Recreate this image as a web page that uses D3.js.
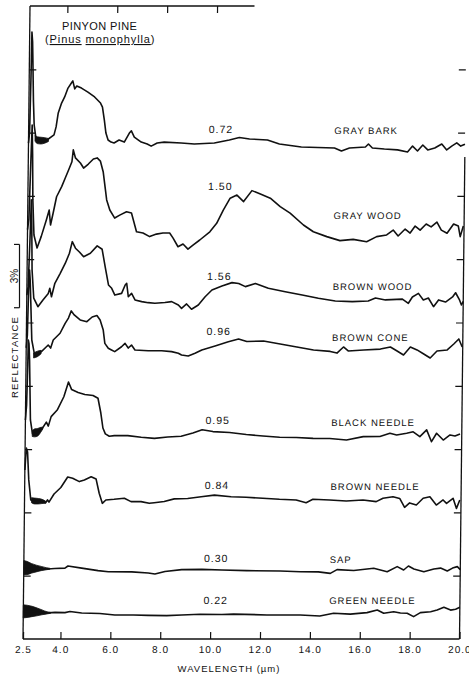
<!DOCTYPE html>
<html><head><meta charset="utf-8">
<script src="https://cdn.jsdelivr.net/npm/d3@7"></script>
<style>
html,body{margin:0;padding:0;background:#fff;}
svg{display:block;}
text{font-family:"Liberation Sans",Arial,Helvetica,sans-serif;fill:#111;}
</style></head><body>
<svg id="chart" width="469" height="679"></svg>
<script>
// ---------- data ----------
const xTicks = [2.5,4,6,8,10,12,14,16,18,20];
const xTickLabels = ["2.5","4.0","6.0","8.0","10.0","12.0","14.0","16.0","18.0","20.0"];
const yTicks = [3,6,9,12,15,18,21,24,27];
const topTicks = [4,6,8,10];

const sampleNames  = ["GRAY BARK","GRAY WOOD","BROWN WOOD","BROWN CONE","BLACK NEEDLE","BROWN NEEDLE","SAP","GREEN NEEDLE"];
const sampleValues = ["0.72","1.50","1.56","0.96","0.95","0.84","0.30","0.22"];
const nameLabelY   = [23.93,19.91,16.54,14.12,10.09,7.06,3.62,1.66];
const valueLabelY  = [23.98,21.28,17.01,14.41,10.19,7.11,3.65,1.66];

const grayBark = [[2.50,23.50],[2.54,24.00],[2.57,26.50],[2.59,28.77],[2.62,28.30],[2.64,27.44],[2.68,25.50],[2.72,24.36],[2.80,23.70],[2.95,23.62],[3.10,23.62],[3.24,23.65],[3.52,23.89],[3.60,24.27],[3.68,24.93],[3.81,25.40],[3.93,25.69],[4.06,26.11],[4.22,26.40],[4.25,26.45],[4.33,26.07],[4.41,26.21],[4.60,26.11],[4.86,25.92],[5.13,25.69],[5.37,25.40],[5.45,25.21],[5.53,24.60],[5.60,23.98],[5.69,23.65],[5.81,23.55],[5.93,23.51],[6.13,23.65],[6.34,23.55],[6.54,23.98],[6.62,24.08],[6.74,23.79],[7.02,23.55],[7.26,23.46],[7.42,23.36],[7.66,23.51],[7.94,23.55],[8.62,23.51],[9.15,23.46],[9.95,23.51],[10.55,23.65],[10.95,23.77],[11.36,23.70],[12.08,23.65],[12.56,23.46],[13.44,23.32],[14.77,23.27],[15.05,23.13],[15.37,23.27],[16.01,23.32],[16.13,23.46],[16.29,23.27],[16.77,23.22],[17.30,23.18],[17.70,23.08],[17.90,23.36],[18.10,23.13],[18.31,23.41],[18.51,23.18],[18.79,23.27],[19.07,23.46],[19.27,23.18],[19.47,23.36],[19.67,23.51],[19.83,23.36],[20.00,23.45]];

const grayWood = [[2.50,19.40],[2.55,19.90],[2.60,22.50],[2.64,24.36],[2.67,23.00],[2.70,20.81],[2.76,19.15],[2.89,18.53],[3.05,19.07],[3.25,19.86],[3.36,20.33],[3.42,19.62],[3.52,20.19],[3.65,20.96],[3.85,21.44],[3.99,21.85],[4.12,22.23],[4.25,22.62],[4.30,23.18],[4.39,22.80],[4.59,22.56],[4.72,22.32],[4.91,22.51],[5.11,22.75],[5.26,22.80],[5.39,22.65],[5.51,22.13],[5.66,20.81],[5.79,20.33],[5.99,19.95],[6.19,20.09],[6.46,20.25],[6.66,20.19],[6.87,19.30],[7.13,19.24],[7.40,19.07],[7.67,19.19],[7.93,19.24],[8.20,19.24],[8.34,19.00],[8.54,18.59],[8.74,18.72],[8.94,18.48],[9.14,18.67],[9.41,18.91],[9.81,19.30],[10.08,19.70],[10.34,20.33],[10.61,20.89],[10.88,21.04],[11.15,20.73],[11.48,21.25],[11.82,21.09],[12.22,20.89],[12.62,20.49],[13.02,20.18],[13.56,19.62],[13.96,19.30],[14.50,19.07],[15.03,18.88],[15.56,18.94],[16.10,18.83],[16.50,19.07],[16.90,19.15],[17.16,19.38],[17.36,19.10],[17.64,19.43],[17.84,19.24],[18.04,19.57],[18.24,19.38],[18.48,19.67],[18.68,19.53],[18.91,19.76],[19.09,19.38],[19.32,19.23],[19.58,19.67],[19.77,19.57],[19.85,19.07],[19.97,19.57]];

const brownWood = [[2.50,16.30],[2.55,16.70],[2.60,18.80],[2.64,20.81],[2.67,19.50],[2.70,17.49],[2.78,16.16],[2.95,15.75],[3.15,16.07],[3.36,16.38],[3.42,16.62],[3.49,16.22],[3.62,16.86],[3.83,17.33],[4.03,17.81],[4.19,18.28],[4.30,18.83],[4.43,18.52],[4.59,18.34],[4.76,18.12],[5.03,18.28],[5.30,18.63],[5.50,18.47],[5.63,17.64],[5.77,16.78],[5.90,16.62],[6.03,16.30],[6.30,16.38],[6.44,16.78],[6.50,16.86],[6.57,16.22],[6.70,16.38],[6.84,16.07],[7.11,15.99],[7.37,15.94],[7.64,15.91],[8.04,15.95],[8.31,15.99],[8.58,15.83],[8.71,15.67],[8.91,15.88],[9.11,15.63],[9.38,15.83],[9.65,16.22],[9.92,16.54],[10.32,16.73],[10.72,16.89],[10.99,16.85],[11.26,16.70],[11.66,16.85],[12.18,16.62],[12.86,16.46],[13.54,16.30],[14.19,16.15],[14.87,16.02],[15.55,15.99],[16.19,16.02],[16.48,16.16],[16.88,16.07],[17.56,16.11],[17.80,15.91],[17.96,16.21],[18.20,16.38],[18.40,16.07],[18.60,16.16],[18.81,15.75],[19.01,16.07],[19.29,15.97],[19.57,16.21],[19.69,16.41],[19.85,16.07],[19.93,15.83],[20.00,16.00]];

const brownCone = [[2.50,13.80],[2.54,14.41],[2.57,16.50],[2.60,17.49],[2.63,17.00],[2.66,16.07],[2.72,14.17],[2.84,13.45],[3.11,13.62],[3.31,13.85],[3.38,13.93],[3.48,13.79],[3.58,14.17],[3.85,14.49],[4.05,14.96],[4.18,15.21],[4.29,15.55],[4.41,15.36],[4.65,15.12],[4.92,15.04],[5.13,15.26],[5.32,15.33],[5.45,15.12],[5.58,14.64],[5.65,14.01],[5.79,13.78],[5.92,13.70],[6.05,13.62],[6.32,13.85],[6.46,14.01],[6.59,13.79],[6.72,13.93],[6.86,13.70],[7.39,13.66],[7.93,13.66],[8.33,13.62],[8.60,13.54],[8.73,13.46],[9.00,13.41],[9.27,13.54],[9.54,13.70],[10.07,13.89],[10.60,14.09],[11.01,14.22],[11.34,14.10],[12.01,14.12],[12.68,13.98],[13.35,13.84],[14.02,13.70],[14.69,13.63],[14.96,13.55],[15.22,13.84],[15.41,13.65],[16.03,13.70],[16.70,13.74],[17.10,13.84],[17.37,13.65],[17.63,13.46],[17.90,13.84],[18.17,13.70],[18.44,13.51],[18.70,13.32],[18.97,13.65],[19.38,13.70],[19.64,13.98],[19.84,14.22],[19.98,13.84]];

const blackNeedle = [[2.50,10.38],[2.54,11.09],[2.57,13.00],[2.58,14.17],[2.61,14.00],[2.64,13.22],[2.70,10.38],[2.79,9.72],[2.90,9.76],[3.00,9.80],[3.10,9.90],[3.19,10.00],[3.34,10.28],[3.42,10.09],[3.53,10.54],[3.77,10.85],[4.03,11.48],[4.21,12.18],[4.34,11.82],[4.60,11.68],[4.87,11.59],[5.20,11.54],[5.40,11.41],[5.52,10.71],[5.61,10.00],[5.71,9.72],[5.87,9.61],[6.07,9.64],[6.61,9.64],[7.15,9.56],[7.68,9.51],[8.21,9.57],[8.75,9.61],[9.22,9.76],[9.59,9.92],[10.02,9.83],[10.69,9.79],[11.36,9.69],[12.03,9.62],[12.70,9.56],[13.37,9.55],[14.04,9.51],[14.71,9.50],[15.38,9.43],[16.05,9.59],[16.72,9.60],[17.12,9.75],[17.39,9.67],[17.79,9.75],[18.05,9.82],[18.32,9.59],[18.59,9.91],[18.79,9.35],[18.99,9.75],[19.26,9.43],[19.53,9.67],[19.73,9.62],[19.93,9.72]];

const brownNeedle = [[2.50,8.01],[2.55,9.05],[2.60,8.86],[2.66,7.54],[2.75,6.59],[2.86,6.55],[3.00,6.53],[3.15,6.52],[3.30,6.48],[3.35,6.46],[3.42,6.59],[3.48,6.49],[3.68,6.87],[3.95,7.18],[4.22,7.68],[4.42,7.62],[4.69,7.46],[4.89,7.54],[5.16,7.69],[5.36,7.58],[5.49,6.91],[5.62,6.43],[5.76,6.59],[6.09,6.62],[6.50,6.67],[6.77,6.51],[7.17,6.51],[7.50,6.43],[7.70,6.46],[8.10,6.52],[8.50,6.64],[9.04,6.66],[9.58,6.74],[10.11,6.82],[10.78,6.74],[11.38,6.72],[12.05,6.67],[12.72,6.62],[13.39,6.59],[13.79,6.46],[14.06,6.62],[14.73,6.59],[15.40,6.54],[16.07,6.59],[16.60,6.51],[16.87,6.67],[17.27,6.74],[17.54,6.66],[17.74,6.24],[17.94,6.45],[18.21,6.35],[18.48,6.67],[18.75,6.74],[19.01,6.35],[19.28,6.59],[19.42,6.43],[19.68,6.67],[19.82,6.19],[19.95,6.59]];

const sap = [[2.50,3.38],[2.80,3.35],[3.10,3.34],[3.46,3.32],[3.74,3.34],[4.15,3.36],[4.27,3.46],[4.82,3.36],[5.48,3.24],[5.89,3.19],[6.83,3.18],[7.49,3.13],[7.76,3.08],[8.16,3.20],[8.83,3.29],[9.64,3.30],[10.44,3.27],[11.44,3.24],[12.78,3.22],[13.59,3.19],[14.31,3.18],[14.79,3.11],[15.06,3.29],[15.73,3.25],[16.53,3.35],[17.07,3.19],[17.47,3.43],[17.73,3.27],[17.92,3.46],[18.14,3.32],[18.54,3.19],[18.94,3.32],[19.21,3.36],[19.48,3.22],[19.69,3.36],[19.88,3.43],[20.00,3.29]];

const greenNeedle = [[2.50,1.31],[2.80,1.30],[3.10,1.28],[3.50,1.24],[3.77,1.26],[4.17,1.25],[4.37,1.30],[4.84,1.23],[5.57,1.21],[6.17,1.14],[6.91,1.14],[7.51,1.12],[8.25,1.11],[8.85,1.14],[9.59,1.17],[10.46,1.16],[10.93,1.18],[12.27,1.14],[13.60,1.14],[14.39,1.09],[14.94,1.22],[15.61,1.18],[16.28,1.25],[16.69,1.37],[16.95,1.22],[17.35,1.29],[17.62,1.23],[17.89,1.22],[18.15,1.06],[18.42,1.25],[18.83,1.29],[19.09,1.37],[19.36,1.50],[19.63,1.37],[19.83,1.41],[20.00,1.50]];

// dense-noise envelopes near 2.5–3.5 µm: [wavelength, low, high]
const grayBarkBand    = [[2.76,23.60,23.88],[2.85,23.48,23.80],[3.00,23.46,23.78],[3.15,23.50,23.76],[3.30,23.58,23.72]];
const brownConeBand   = [[2.80,13.32,13.56],[2.95,13.38,13.64],[3.10,13.52,13.68]];
const blackNeedleBand = [[2.78,9.60,9.88],[2.88,9.58,9.96],[3.00,9.62,9.98],[3.12,9.80,10.03],[3.20,9.95,10.04]];
const brownNeedleBand = [[2.78,6.46,6.70],[2.90,6.40,6.68],[3.05,6.40,6.66],[3.20,6.42,6.62],[3.35,6.43,6.53]];
const sapBand         = [[2.50,3.05,3.72],[2.62,3.05,3.68],[2.80,3.12,3.58],[3.00,3.18,3.50],[3.20,3.24,3.44],[3.40,3.28,3.38],[3.55,3.31,3.35]];
const greenNeedleBand = [[2.50,1.00,1.62],[2.65,1.02,1.60],[2.85,1.06,1.55],[3.05,1.10,1.47],[3.25,1.15,1.38],[3.45,1.19,1.29],[3.60,1.22,1.26]];

const spectra = [grayBark, grayWood, brownWood, brownCone, blackNeedle, brownNeedle, sap, greenNeedle];
const bands = [grayBarkBand, brownConeBand, blackNeedleBand, brownNeedleBand, sapBand, greenNeedleBand];

// frame extents (data units)
const rightAxisTop = 22.84;   // right border visible only below this level
const topAxisEnd = 11.5;      // top border visible only left of this wavelength
const scaleBarTop = 18.7, scaleBarSpan = 3; // "3%" bar

// ---------- drawing ----------
const svg = d3.select("#chart");
const x = d3.scaleLinear().domain([2.5, 20]).range([23, 459.5]);
const y = d3.scaleLinear().domain([0, 30]).range([639, 6]);

const lean = 0.01106; // slight lean of the scanned figure
const g = svg.append("g")
  .attr("transform", `translate(${(y(0)*lean).toFixed(3)},0) skewX(${(-Math.atan(lean)*180/Math.PI).toFixed(4)})`);

const frame = g.append("g").attr("stroke", "#111").attr("stroke-width", 1.3).attr("fill", "none");
frame.append("line").attr("x1", x(2.5)).attr("x2", x(2.5)).attr("y1", y(30)).attr("y2", y(0));
frame.append("line").attr("x1", x(2.5)).attr("x2", x(20)).attr("y1", y(0)).attr("y2", y(0));
frame.append("line").attr("x1", x(20)).attr("x2", x(20)).attr("y1", y(rightAxisTop)).attr("y2", y(0));
frame.append("line").attr("x1", x(2.5)).attr("x2", x(topAxisEnd)).attr("y1", y(30)).attr("y2", y(30));

function styleAxis(sel){
  sel.select(".domain").remove();
  sel.selectAll(".tick line").attr("stroke", "#111").attr("stroke-width", 1.2);
}
const bottomAxis = g.append("g").attr("transform", `translate(0,${y(0)})`)
  .call(d3.axisBottom(x).tickValues(xTicks).tickFormat((d,i)=>xTickLabels[i]).tickSizeInner(-7).tickSizeOuter(0).tickPadding(6.5));
styleAxis(bottomAxis);
bottomAxis.selectAll(".tick text").attr("font-family", "Liberation Sans, Arial, sans-serif")
  .attr("font-size", 10).attr("letter-spacing", 1).attr("fill", "#111");

const leftAxis = g.append("g").attr("transform", `translate(${x(2.5)},0)`)
  .call(d3.axisLeft(y).tickValues(yTicks).tickFormat("").tickSizeInner(-7).tickSizeOuter(0));
styleAxis(leftAxis);
const rightAxis = g.append("g").attr("transform", `translate(${x(20)},0)`)
  .call(d3.axisRight(y).tickValues(yTicks).tickFormat("").tickSizeInner(-7).tickSizeOuter(0));
styleAxis(rightAxis);
const topAxis = g.append("g").attr("transform", `translate(0,${y(30)})`)
  .call(d3.axisTop(x).tickValues(topTicks).tickFormat("").tickSizeInner(-7).tickSizeOuter(0));
styleAxis(topAxis);

const area = d3.area().x(d => x(d[0])).y0(d => y(d[1])).y1(d => y(d[2])).curve(d3.curveMonotoneX);
g.append("g").selectAll("path").data(bands).join("path")
  .attr("d", area).attr("fill", "#111").attr("stroke", "#111").attr("stroke-width", 0.8);

const line = d3.line().x(d => x(d[0])).y(d => y(d[1]));
g.append("g").selectAll("path").data(spectra).join("path")
  .attr("d", line).attr("fill", "none").attr("stroke", "#111")
  .attr("stroke-width", 1.6).attr("stroke-linejoin", "round");

g.append("g").selectAll("text").data(sampleValues).join("text")
  .attr("x", x(9.72)).attr("y", (d,i) => y(valueLabelY[i]))
  .attr("font-size", 10.5).attr("letter-spacing", 1).text(d => d);
g.append("g").selectAll("text").data(sampleNames).join("text")
  .attr("x", x(14.76)).attr("y", (d,i) => y(nameLabelY[i]))
  .attr("font-size", 9.5).attr("letter-spacing", 1).text(d => d);

// titles
svg.append("text").attr("x", 62).attr("y", 30).attr("font-size", 11).attr("letter-spacing", 0.4).text("PINYON PINE");
const sci = svg.append("text").attr("x", 45).attr("y", 43).attr("font-size", 11).attr("letter-spacing", 0.9);
sci.append("tspan").text("(");
sci.append("tspan").attr("text-decoration", "underline").style("text-decoration", "underline").text("Pinus");
sci.append("tspan").text(" ");
sci.append("tspan").attr("text-decoration", "underline").style("text-decoration", "underline").text("monophylla");
sci.append("tspan").text(")");

svg.append("text").attr("x", 229).attr("y", 672).attr("text-anchor", "middle")
  .attr("font-size", 9.5).attr("letter-spacing", 1).text("WAVELENGTH (µm)");

svg.append("text").attr("transform", "translate(18,357) rotate(-90)").attr("text-anchor", "middle")
  .attr("font-size", 9.5).attr("letter-spacing", 1.2).text("REFLECTANCE");
svg.append("text").attr("transform", `translate(18,${(y(scaleBarTop)+y(scaleBarTop-scaleBarSpan))/2}) rotate(-90)`).attr("text-anchor", "middle")
  .attr("font-size", 10).text("3%");

const bar = svg.append("g").attr("stroke", "#111").attr("stroke-width", 1.2);
bar.append("line").attr("x1", 19.5).attr("x2", 19.5).attr("y1", y(scaleBarTop)).attr("y2", y(scaleBarTop - scaleBarSpan));
bar.append("line").attr("x1", 14).attr("x2", 19.5).attr("y1", y(scaleBarTop)).attr("y2", y(scaleBarTop));
bar.append("line").attr("x1", 14).attr("x2", 19.5).attr("y1", y(scaleBarTop - scaleBarSpan)).attr("y2", y(scaleBarTop - scaleBarSpan));
</script>
</body></html>
